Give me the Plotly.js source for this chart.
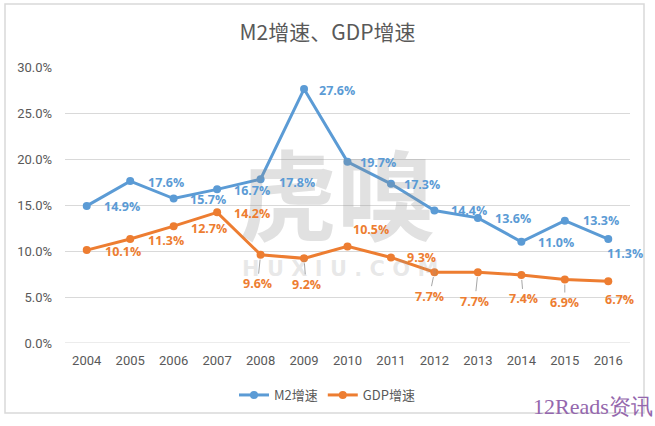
<!DOCTYPE html>
<html>
<head>
<meta charset="utf-8">
<script src="https://cdn.plot.ly/plotly-3.0.1.min.js"></script>
<style>
html,body{margin:0;padding:0;background:#fff;}
#chart{width:655px;height:426px;}
</style>
</head>
<body>
<div id="chart"></div>
<script>
// ---- data ----
var years = ['2004','2005','2006','2007','2008','2009','2010','2011','2012','2013','2014','2015','2016'];
var m2Growth  = [14.9, 17.6, 15.7, 16.7, 17.8, 27.6, 19.7, 17.3, 14.4, 13.6, 11.0, 13.3, 11.3];
var gdpGrowth = [10.1, 11.3, 12.7, 14.2, 9.6, 9.2, 10.5, 9.3, 7.7, 7.7, 7.4, 6.9, 6.7];
var seriesNames = ['M2增速', 'GDP增速'];
var chartTitle = 'M2增速、GDP增速';

// ---- label placement (pixel offsets; 'l' = left-anchored to the right of point, 'c' = centered) ----
var m2Place = [
  {a:'l',dx:15,dy:1},{a:'l',dx:16,dy:1},{a:'l',dx:14,dy:1},{a:'l',dx:15,dy:1},
  {a:'l',dx:16,dy:3},{a:'l',dx:13,dy:1},{a:'l',dx:10,dy:1},{a:'l',dx:11,dy:1},
  {a:'l',dx:15,dy:0},{a:'l',dx:15,dy:1},{a:'l',dx:15,dy:1},{a:'l',dx:16,dy:0},
  {a:'c',dx:17,dy:14}
];
var gdpPlace = [
  {a:'l',dx:16,dy:1},{a:'l',dx:16,dy:1},{a:'l',dx:15,dy:2},{a:'l',dx:15,dy:1},
  {a:'c',dx:-3,dy:29,lead:true},{a:'c',dx:2,dy:26,lead:true},{a:'c',dx:23,dy:-17},
  {a:'l',dx:14,dy:0},{a:'c',dx:-5,dy:24,lead:true},{a:'c',dx:-3,dy:29,lead:true},
  {a:'c',dx:2,dy:24,lead:true},{a:'c',dx:0,dy:23,lead:true},{a:'c',dx:11,dy:18}
];

var blue = '#5b9bd5', orange = '#ed7d31', grey = '#595959';

function labels(vals, place, color) {
  return vals.map(function(v, i) {
    var p = place[i];
    var base = {
      x: i, y: v, xref: 'x', yref: 'y',
      text: v.toFixed(1) + '%',
      font: {family: 'Open Sans, sans-serif', size: 12.5, color: color, weight: 'bold'}
    };
    if (p.a === 'l') {
      base.showarrow = false; base.xanchor = 'left'; base.yanchor = 'middle';
      base.xshift = p.dx; base.yshift = -p.dy;
    } else if (p.lead) {
      base.showarrow = true; base.arrowhead = 0; base.arrowwidth = 1;
      base.arrowcolor = '#a6a6a6'; base.standoff = 5;
      base.ax = p.dx; base.ay = p.dy; base.xanchor = 'center'; base.yanchor = 'middle';
    } else {
      base.showarrow = false; base.xanchor = 'center'; base.yanchor = 'middle';
      base.xshift = p.dx; base.yshift = -p.dy;
    }
    return base;
  });
}

var traces = [
  {x: years, y: m2Growth, name: seriesNames[0], type: 'scatter', mode: 'lines+markers',
   line: {color: blue, width: 3}, marker: {color: blue, size: 8}},
  {x: years, y: gdpGrowth, name: seriesNames[1], type: 'scatter', mode: 'lines+markers',
   line: {color: orange, width: 3}, marker: {color: orange, size: 8}}
];

var annotations = [
  {xref:'paper', yref:'paper', x:(337-65)/565, y:(343-190)/276, xanchor:'center', yanchor:'middle',
   text:'虎嗅', showarrow:false,
   font:{family:'Noto Sans CJK SC', size:98, color:'rgba(140,140,140,0.26)', weight:'bold'}},
  {xref:'paper', yref:'paper', x:(340-65)/565, y:(343-269)/276, xanchor:'center', yanchor:'middle',
   text:'H U X I U . C O M', showarrow:false,
   font:{family:'DejaVu Sans', size:21, color:'rgba(150,150,150,0.22)', weight:'bold'}},
  {xref:'paper', yref:'paper', x:(593-65)/565, y:(343-406)/276, xanchor:'center', yanchor:'middle',
   text:'12Reads资讯', showarrow:false,
   font:{family:'Liberation Serif, DejaVu Serif, serif', size:22, color:'#9467ad'}}
].concat(labels(m2Growth, m2Place, blue)).concat(labels(gdpGrowth, gdpPlace, orange));

var layout = {
  width: 655, height: 426,
  margin: {l: 65, r: 25, t: 67, b: 83},
  paper_bgcolor: '#fff', plot_bgcolor: '#fff',
  title: {text: chartTitle, x: 0.5, xref: 'container', xanchor: 'center',
          y: 1 - 33/426, yanchor: 'middle',
          font: {family: 'Noto Sans CJK SC', size: 21, color: grey}},
  showlegend: true,
  legend: {orientation: 'h', x: (327-65)/565, xanchor: 'center', y: (343-395)/276, yanchor: 'middle',
           font: {family: 'Noto Sans CJK SC', size: 13, color: grey}},
  xaxis: {type: 'category', range: [-0.5, 12.5], showgrid: false, zeroline: false, showline: false,
          ticks: '', ticklabelstandoff: 8, fixedrange: true,
          tickfont: {family: 'Roboto', size: 13, color: grey}},
  yaxis: {range: [0, 30], dtick: 5, tick0: 0, tickformat: '.1f', ticksuffix: '%',
          showgrid: true, gridcolor: '#d9d9d9', gridwidth: 1, zeroline: false, showline: false,
          ticks: '', ticklabelstandoff: 12, fixedrange: true,
          tickfont: {family: 'Roboto', size: 13, color: grey}},
  shapes: [
    {type: 'line', xref: 'paper', yref: 'y', x0: 0, x1: 1, y0: 0, y1: 0,
     line: {color: '#d9d9d9', width: 1}, layer: 'below'},
    {type: 'rect', xref: 'paper', yref: 'paper',
     x0: (5-65)/565, x1: (644-65)/565, y0: (343-413)/276, y1: (343-4)/276,
     line: {color: '#d9d9d9', width: 1.5}, layer: 'below'}
  ],
  annotations: annotations
};

Plotly.newPlot('chart', traces, layout, {staticPlot: true, displayModeBar: false});
</script>
</body>
</html>
